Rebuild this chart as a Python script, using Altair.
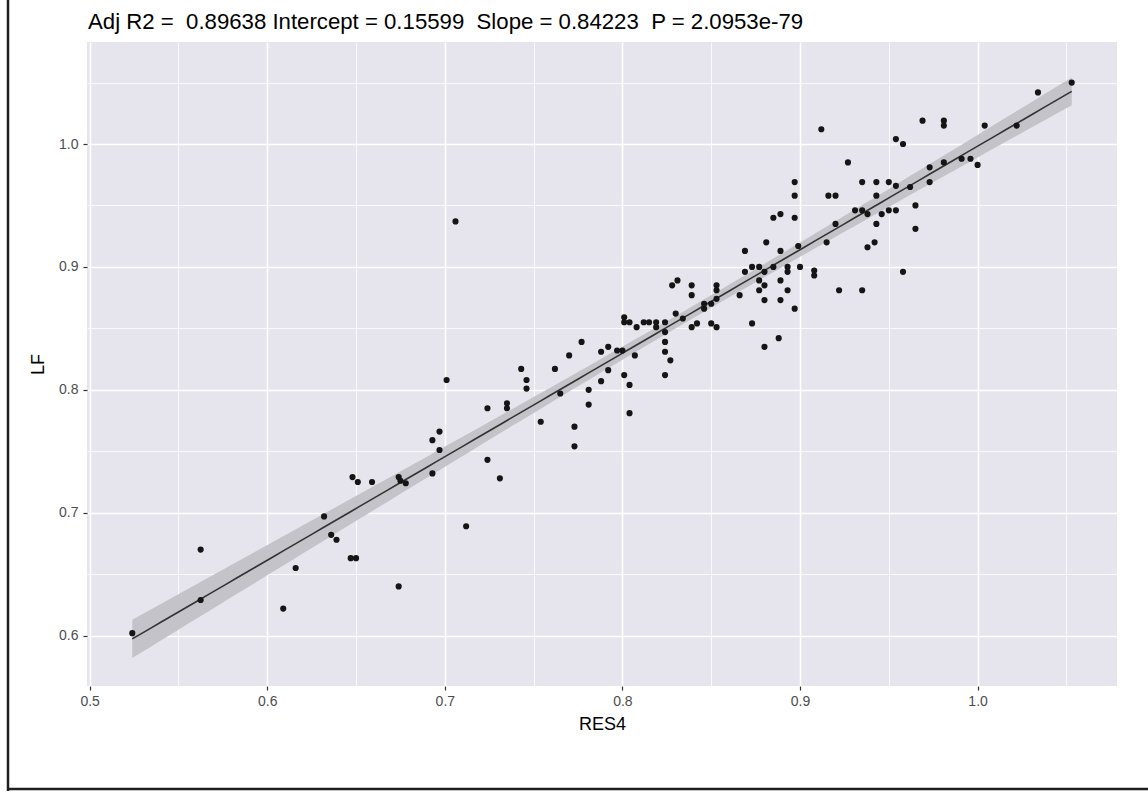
import altair as alt
import numpy as np
import pandas as pd

# ---- data ----
res4 = [0.524, 0.5625, 0.5625, 0.609, 0.616, 0.632, 0.636, 0.639, 0.648, 0.651,
        0.659, 0.647, 0.650, 0.674, 0.674, 0.675, 0.678, 0.693, 0.693, 0.697,
        0.697, 0.701, 0.706, 0.712, 0.724, 0.724, 0.731, 0.735, 0.735, 0.743,
        0.746, 0.746, 0.754, 0.762, 0.765, 0.770, 0.773, 0.773, 0.777, 0.781,
        0.781, 0.788, 0.788, 0.792, 0.792, 0.797, 0.800, 0.801, 0.804, 0.804,
        0.807,
        0.801, 0.801, 0.804, 0.808, 0.812, 0.815, 0.819, 0.819, 0.824, 0.824,
        0.824, 0.824, 0.824, 0.827, 0.828, 0.831, 0.830, 0.834, 0.839, 0.839,
        0.839, 0.842, 0.846, 0.846, 0.850, 0.850, 0.853, 0.853, 0.853, 0.853,
        0.866, 0.869, 0.869, 0.873, 0.873, 0.877, 0.877, 0.877, 0.880, 0.880,
        0.880, 0.880, 0.881, 0.885, 0.889, 0.889, 0.889, 0.888, 0.893, 0.893,
        0.893, 0.897, 0.899, 0.900, 0.908, 0.908, 0.915, 0.922, 0.935, 0.938,
        0.942,
        0.912, 0.897, 0.897, 0.916, 0.920, 0.885, 0.889, 0.897,
        1.053, 1.034, 1.022, 1.004, 1.000, 0.996, 0.991, 0.981, 0.981, 0.969,
        0.981, 0.973, 0.973, 0.965, 0.965, 0.962, 0.954, 0.958, 0.954, 0.950,
        0.943, 0.935, 0.943, 0.927, 0.931, 0.935, 0.938, 0.946, 0.950, 0.954,
        0.943, 0.920, 0.958]

lf = [0.602, 0.670, 0.629, 0.622, 0.655, 0.697, 0.682, 0.678, 0.729, 0.725,
      0.725, 0.663, 0.663, 0.640, 0.729, 0.726, 0.724, 0.732, 0.759, 0.766,
      0.751, 0.808, 0.937, 0.689, 0.785, 0.743, 0.728, 0.789, 0.785, 0.817,
      0.808, 0.801, 0.774, 0.817, 0.797, 0.828, 0.770, 0.754, 0.839, 0.800,
      0.788, 0.831, 0.807, 0.835, 0.816, 0.832, 0.832, 0.812, 0.804, 0.781,
      0.828,
      0.859, 0.855, 0.855, 0.851, 0.855, 0.855, 0.855, 0.851, 0.855, 0.847,
      0.839, 0.831, 0.812, 0.824, 0.885, 0.889, 0.862, 0.858, 0.885, 0.877,
      0.851, 0.854, 0.870, 0.866, 0.870, 0.854, 0.885, 0.881, 0.874, 0.851,
      0.877, 0.913, 0.896, 0.900, 0.854, 0.900, 0.889, 0.881, 0.835, 0.896,
      0.885, 0.873, 0.920, 0.900, 0.913, 0.889, 0.873, 0.842, 0.900, 0.896,
      0.881, 0.866, 0.917, 0.900, 0.897, 0.893, 0.920, 0.881, 0.881, 0.916,
      0.920,
      1.012, 0.969, 0.958, 0.958, 0.958, 0.940, 0.943, 0.940,
      1.050, 1.042, 1.015, 1.015, 0.983, 0.988, 0.988, 1.019, 1.015, 1.019,
      0.985, 0.981, 0.969, 0.950, 0.931, 0.965, 1.004, 1.000, 0.966, 0.969,
      0.969, 0.969, 0.958, 0.985, 0.946, 0.946, 0.943, 0.943, 0.946, 0.946,
      0.935, 0.935, 0.896]

INTERCEPT = 0.15599
SLOPE = 0.84223
TITLE = "Adj R2 =\u00a0 0.89638 Intercept = 0.15599\u00a0 Slope = 0.84223\u00a0 P = 2.0953e-79"

x_grid = [0.5, 0.55, 0.6, 0.65, 0.7, 0.75, 0.8, 0.85, 0.9, 0.95, 1.0, 1.05]
y_grid = [0.6, 0.65, 0.7, 0.75, 0.8, 0.85, 0.9, 0.95, 1.0, 1.05]
X_DOMAIN = [0.4985, 1.0785]
Y_DOMAIN = [0.559, 1.083]

# ---- linear fit with 95% confidence band (as geom_smooth(method="lm")) ----
xa = np.array(res4)
ya = np.array(lf)
n = len(xa)
resid = ya - (INTERCEPT + SLOPE * xa)
s = np.sqrt((resid ** 2).sum() / (n - 2))
xbar = xa.mean()
sxx = ((xa - xbar) ** 2).sum()
tval = 1.976
gx = np.linspace(xa.min(), xa.max(), 100)
fit = INTERCEPT + SLOPE * gx
se = s * np.sqrt(1.0 / n + (gx - xbar) ** 2 / sxx)
band = pd.DataFrame({"RES4": gx, "fit": fit, "lo": fit - tval * se, "hi": fit + tval * se})
pts = pd.DataFrame({"RES4": res4, "LF": lf})
title_df = pd.DataFrame({"label": [TITLE]})

FONT = "Liberation Sans"
MAJOR = "abs(datum.value*10 - round(datum.value*10)) < 0.001"
LABEL = "(abs(datum.value*10 - round(datum.value*10)) < 0.001) ? format(datum.value, '.1f') : ''"

xaxis = alt.Axis(
    values=x_grid, title="RES4", labelExpr=LABEL,
    grid=True, gridColor="white",
    gridWidth={"condition": {"test": MAJOR, "value": 1.6}, "value": 0.8},
    tickOpacity={"condition": {"test": MAJOR, "value": 1}, "value": 0},
    tickColor="#333333", tickSize=4, tickWidth=1.2, domain=False,
    labelFont=FONT, labelFontSize=14, labelColor="#4d4d4d", labelPadding=4,
    titleFont=FONT, titleFontSize=18, titleFontWeight="normal", titleColor="black",
    titlePadding=7,
)
yaxis = alt.Axis(
    values=y_grid, title="LF", labelExpr=LABEL,
    grid=True, gridColor="white",
    gridWidth={"condition": {"test": MAJOR, "value": 1.6}, "value": 0.8},
    tickOpacity={"condition": {"test": MAJOR, "value": 1}, "value": 0},
    tickColor="#333333", tickSize=4, tickWidth=1.2, domain=False,
    labelFont=FONT, labelFontSize=14, labelColor="#4d4d4d", labelPadding=5,
    titleFont=FONT, titleFontSize=18, titleFontWeight="normal", titleColor="black",
    titlePadding=11,
)

xs = alt.Scale(domain=X_DOMAIN, nice=False, zero=False)
ys = alt.Scale(domain=Y_DOMAIN, nice=False, zero=False)

ribbon = alt.Chart(band).mark_area(color="#c4c3c9", opacity=1).encode(
    x=alt.X("RES4:Q", scale=xs, axis=xaxis),
    y=alt.Y("lo:Q", scale=ys, axis=yaxis),
    y2="hi:Q",
)
line = alt.Chart(band).mark_line(color="#333333", strokeWidth=1.6).encode(
    x=alt.X("RES4:Q", scale=xs),
    y=alt.Y("fit:Q", scale=ys),
)
points = alt.Chart(pts).mark_circle(color="#151515", opacity=1, size=38).encode(
    x=alt.X("RES4:Q", scale=xs),
    y=alt.Y("LF:Q", scale=ys),
)

# plot title (statistics of the fit), placed above the panel, left-aligned with it
title_mark = alt.Chart(title_df).mark_text(
    font=FONT, fontSize=22.2, color="black", align="left", baseline="alphabetic"
).encode(text="label:N", x=alt.value(1), y=alt.value(-13))

# scanned-page frame lines (left and bottom edges of the scan)
frame_left = alt.Chart(title_df).mark_rule(color="#1e1e1e", strokeWidth=2.5).encode(
    x=alt.value(-79), y=alt.value(-42), y2=alt.value(749)
)
frame_bottom = alt.Chart(title_df).mark_rule(color="#1e1e1e", strokeWidth=2.5).encode(
    x=alt.value(-79), x2=alt.value(1061), y=alt.value(747)
)

chart = alt.layer(ribbon, line, points, title_mark, frame_left, frame_bottom).properties(
    width=1030, height=644,
    autosize=alt.AutoSizeParams(type="none"),
    padding={"left": 87, "top": 42, "right": 31, "bottom": 107},
    background="white",
).configure_view(fill="#e6e4ec", strokeWidth=0)

chart.save("out.html", embed_options={"renderer": "svg", "actions": False})
